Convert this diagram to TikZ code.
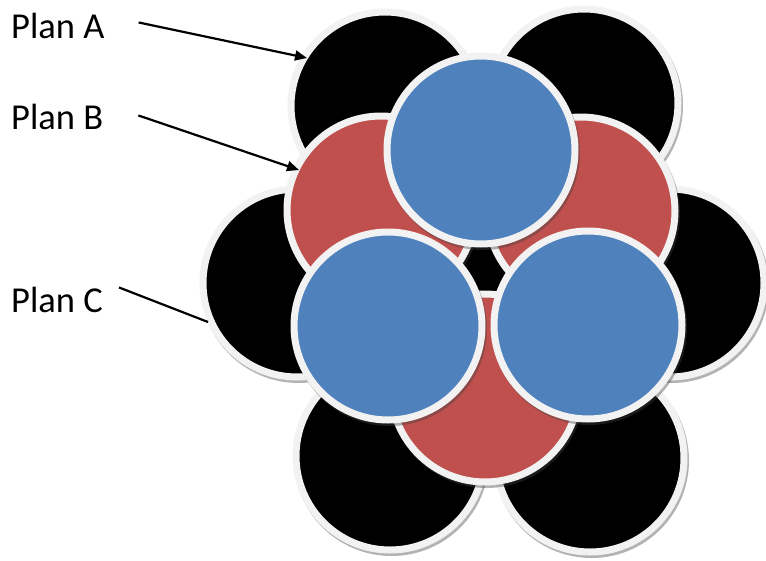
\documentclass[tikz,border=0pt]{standalone}
\usepackage{fontspec}
\setmainfont{Carlito}
\usetikzlibrary{arrows.meta,shadows}

\definecolor{rimgray}{HTML}{F2F2F2}
\definecolor{planblue}{HTML}{4F81BD}
\definecolor{planred}{HTML}{C0504D}

\begin{document}
\begin{tikzpicture}[
    x=1pt, y=-1pt,
    disc/.style={circle, inner sep=0pt, minimum size=188pt, draw=rimgray,
      line width=7pt,
      drop shadow={shadow xshift=1.5pt, shadow yshift=-2.5pt, opacity=0.4,
        fill=black!75, draw=black!75, line width=7pt}},
    outerdisc/.style={disc, fill=black},
    middisc/.style={disc, fill=planred},
    innerdisc/.style={disc, fill=planblue},
    lbl/.style={font=\fontsize{36.5}{42}\selectfont, inner sep=0pt,
      anchor=base west},
    pointer/.style={line width=2.2pt, -{Triangle[length=12pt,width=10pt]}},
  ]
\useasboundingbox (0,0) rectangle (766,560);

% Bottom layer: seven black discs, the middle one only shows through the gap.
\node[outerdisc] (blkC)  at (484,282) {};
\node[outerdisc] (blkBL) at (390,456) {};
\node[outerdisc] (blkBR) at (590,458) {};
\node[outerdisc] (blkL)  at (297,283) {};
\node[outerdisc] (blkR)  at (670,283) {};
\node[outerdisc] (blkTL) at (385,106) {};
\node[outerdisc] (blkTR) at (584,103) {};

% Middle layer: the three red discs.
\node[middisc] (redTL) at (381,210) {};
\node[middisc] (redTR) at (581,211) {};
\node[middisc] (redB)  at (485,388) {};

% Top layer: the three blue discs.
\node[innerdisc] (bluT)  at (481,150) {};
\node[innerdisc] (bluBL) at (388,326) {};
\node[innerdisc] (bluBR) at (588,325) {};

% Labels and their pointers
\node[lbl] (planA) at (11,38)  {Plan A};
\node[lbl] (planB) at (11,129) {Plan B};
\node[lbl] (planC) at (11,312) {Plan C};

\coordinate (tipA) at (307,58);
\coordinate (tipB) at (299,170);
\coordinate (tipC) at (208,322);

\draw[pointer] ([xshift=34pt,yshift=3pt]planA.east) -- (tipA);
\draw[pointer] ([xshift=35pt,yshift=1pt]planB.east) -- (tipB);
\draw[line width=2.2pt] ([xshift=16pt,yshift=12pt]planC.east) -- (tipC);

\end{tikzpicture}
\end{document}
